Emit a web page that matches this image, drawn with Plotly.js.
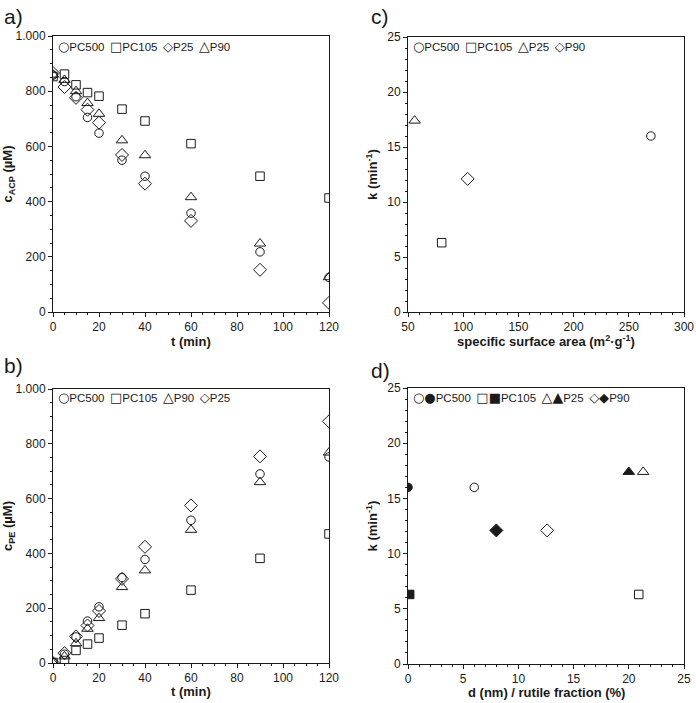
<!DOCTYPE html>
<html><head><meta charset="utf-8">
<script src="https://cdn.plot.ly/plotly-3.0.1.min.js"></script>
<style>html,body{margin:0;padding:0;background:#fff}#chart{width:696px;height:703px}</style>
</head><body><div id="chart"></div>
<script>
// ---- data ----
const times = [0, 5, 10, 15, 20, 30, 40, 60, 90, 120];
// panel a: ACP concentration (µM)
const acpPC500 = [858, 835, 780, 705, 648, 550, 492, 358, 218, 125];
const acpPC105 = [853, 862, 823, 795, 782, 735, 692, 610, 492, 413];
const acpP25   = [866, 815, 776, 733, 686, 569, 465, 330, 153, 33];
const acpP90   = [860, 841, 800, 757, 718, 622, 568, 416, 248, 126];
// panel b: PE concentration (µM)
const pePC500 = [2, 32, 95, 153, 205, 312, 378, 521, 690, 752];
const pePC105 = [2, 9, 46, 69, 91, 138, 180, 266, 382, 471];
const peP90   = [0, 24, 72, 125, 164, 277, 338, 486, 660, 768];
const peP25   = [0, 36, 97, 137, 190, 307, 424, 575, 754, 882];
// panel c: rate constant vs specific surface area
const samplesC = ['PC500', 'PC105', 'P25', 'P90'];
const ssaC = [270, 80.5, 56, 104];
const kC   = [16.0, 6.3, 17.4, 12.1];
// panel d: rate constant vs particle size (open) / rutile fraction (filled)
const samplesD = ['PC500', 'PC105', 'P25', 'P90'];
const sizeD   = [6.0, 20.9, 21.3, 12.6];
const rutileD = [0, 0.15, 20, 8];
const kD      = [16.0, 6.3, 17.4, 12.1];
// tick labels
const concTicks = [0, 200, 400, 600, 800, 1000];
const concTickText = ['0', '200', '400', '600', '800', '1.000'];
// legend orders
const legendA = ['PC500', 'PC105', 'P25', 'P90'];
const legendB = ['PC500', 'PC105', 'P90', 'P25'];
// axis titles
const xTitleA = 't (min)', xTitleB = 't (min)';
const xTitleC = 'specific surface area (m<sup>2</sup>·g<sup>-1</sup>)';
const xTitleD = 'd (nm) / rutile fraction (%)';

// ---- styles ----
const INK = '#1a1a1a';
const FONT = 'Liberation Sans, Arial, sans-serif';
// symbols per panel (a/b: P25 diamond, P90 triangle; c/d: P25 triangle, P90 diamond)
const symAB = {PC500: 'circle', PC105: 'square', P25: 'diamond', P90: 'triangle-up'};
const symCD = {PC500: 'circle', PC105: 'square', P25: 'triangle-up', P90: 'diamond'};
const symSize = {'circle': 8.5, 'square': 8.5, 'diamond': 10, 'triangle-up': 10};
const glyphOpen = {'circle': '○', 'square': '□', 'diamond': '◇', 'triangle-up': '△'};
const glyphFull = {'circle': '●', 'square': '■', 'diamond': '◆', 'triangle-up': '▲'};
const glyphPx = {'circle': 13, 'square': 13, 'diamond': 13, 'triangle-up': 14};

function marker(symbol, filled) {
  return {symbol: filled ? symbol : symbol + '-open', size: symSize[symbol], color: INK,
          line: {color: INK, width: 1}};
}
function tr(x, y, name, symbol, xa, ya, filled) {
  return {type: 'scatter', mode: 'markers', x: x, y: y, name: name, xaxis: xa, yaxis: ya,
          marker: marker(symbol, filled), showlegend: false, hoverinfo: 'x+y'};
}

const traces = [
  tr(times, acpPC500, 'PC500', symAB.PC500, 'x', 'y'),
  tr(times, acpPC105, 'PC105', symAB.PC105, 'x', 'y'),
  tr(times, acpP25, 'P25', symAB.P25, 'x', 'y'),
  tr(times, acpP90, 'P90', symAB.P90, 'x', 'y'),
  tr(times, pePC500, 'PC500', symAB.PC500, 'x2', 'y2'),
  tr(times, pePC105, 'PC105', symAB.PC105, 'x2', 'y2'),
  tr(times, peP90, 'P90', symAB.P90, 'x2', 'y2'),
  tr(times, peP25, 'P25', symAB.P25, 'x2', 'y2'),
];
samplesC.forEach((s, i) => traces.push(tr([ssaC[i]], [kC[i]], s, symCD[s], 'x3', 'y3')));
samplesD.forEach((s, i) => {
  traces.push(tr([sizeD[i]], [kD[i]], s, symCD[s], 'x4', 'y4', false));
  traces.push(tr([rutileD[i]], [kD[i]], s, symCD[s], 'x4', 'y4', true));
});

const W = 696, H = 703;
const px = (a, b) => [a / W, b / W];
const py = (top, bottom) => [1 - bottom / H, 1 - top / H];

function xax(dom, anchor, range, dtick, minor) {
  return {domain: dom, anchor: anchor, range: range, dtick: dtick, tick0: 0,
    showgrid: false, zeroline: false, showline: true, mirror: true, linecolor: INK, linewidth: 1,
    ticks: 'outside', ticklen: 4, tickwidth: 1, tickcolor: INK,
    minor: {dtick: minor, ticks: 'outside', ticklen: 2, tickwidth: 1, tickcolor: INK, showgrid: false},
    tickfont: {family: FONT, size: 12, color: INK}};
}
function yax(dom, anchor, range, dtick, minor, title, tv, tt) {
  const a = xax(dom, anchor, range, dtick, minor);
  if (tv) { a.tickmode = 'array'; a.tickvals = tv; a.ticktext = tt; }
  a.title = {text: title, font: {family: FONT, size: 13, color: INK, weight: 'bold'}, standoff: 6};
  return a;
}

function legendText(order, symMap, withFull) {
  return order.map(s => {
    const g = symMap[s];
    return '<span style="font-family:DejaVu Sans;font-size:' + glyphPx[g] + 'px">' +
      glyphOpen[g] + (withFull ? glyphFull[g] : '') + '</span>' + s;
  }).join(' \u2009');
}

const titleFont = {family: FONT, size: 13, color: INK, weight: 'bold'};
const layout = {
  width: W, height: H, margin: {l: 0, r: 0, t: 0, b: 0},
  paper_bgcolor: '#fff', plot_bgcolor: '#fff', showlegend: false,
  font: {family: FONT, color: INK},
  xaxis:  xax(px(53, 329), 'y',  [0, 120], 20, 5),
  yaxis:  yax(py(36, 312), 'x',  [0, 1000], 200, 50, 'c<sub>ACP</sub> (µM)', concTicks, concTickText),
  xaxis2: xax(px(53, 329), 'y2', [0, 120], 20, 5),
  yaxis2: yax(py(389, 663), 'x2', [0, 1000], 200, 50, 'c<sub>PE</sub> (µM)', concTicks, concTickText),
  xaxis3: xax(px(408, 684), 'y3', [50, 300], 50, 10),
  yaxis3: yax(py(37, 312), 'x3', [0, 25], 5, 1, 'k (min<sup>-1</sup>)'),
  xaxis4: xax(px(408, 684), 'y4', [0, 25], 5, 1),
  yaxis4: yax(py(388, 664), 'x4', [0, 25], 5, 1, 'k (min<sup>-1</sup>)'),
  annotations: [
    {text: 'a)', x: 2 / W, y: 1 - 3 / H},
    {text: 'b)', x: 2 / W, y: 1 - 352 / H},
    {text: 'c)', x: 369 / W, y: 1 - 3 / H},
    {text: 'd)', x: 369 / W, y: 1 - 357 / H},
  ].map(a => Object.assign(a, {xref: 'paper', yref: 'paper', xanchor: 'left', yanchor: 'top',
      showarrow: false, font: {family: FONT, size: 21, color: INK}})).concat([
    {text: legendText(legendA, symAB), x: 56 / W, y: 1 - 46 / H},
    {text: legendText(legendB, symAB), x: 56 / W, y: 1 - 397 / H},
    {text: legendText(samplesC, symCD), x: 411 / W, y: 1 - 46 / H},
    {text: legendText(samplesD, symCD, true), x: 411 / W, y: 1 - 397 / H},
  ].map(a => Object.assign(a, {xref: 'paper', yref: 'paper', xanchor: 'left', yanchor: 'middle',
      showarrow: false, font: {family: FONT, size: 11.5, color: INK}}))).concat([
    {text: xTitleA, x: 191 / W, y: 1 - 341 / H},
    {text: xTitleB, x: 191 / W, y: 1 - 691 / H},
    {text: xTitleC, x: 546 / W, y: 1 - 341 / H},
    {text: xTitleD, x: 546 / W, y: 1 - 692 / H},
  ].map(a => Object.assign(a, {xref: 'paper', yref: 'paper', xanchor: 'center', yanchor: 'middle',
      showarrow: false, font: titleFont})))
};

Plotly.newPlot('chart', traces, layout, {staticPlot: true});
</script></body></html>
